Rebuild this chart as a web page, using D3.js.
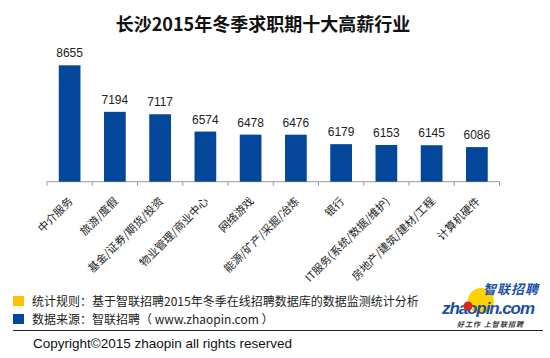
<!DOCTYPE html>
<html><head><meta charset="utf-8">
<script src="https://cdn.jsdelivr.net/npm/d3@7/dist/d3.min.js"></script>
<style>body{margin:0;background:#fff}svg{display:block}</style>
</head><body>
<svg id="c" width="550" height="358"></svg>
<script>
const categories = ["中介服务","旅游/度假","基金/证券/期货/投资","物业管理/商业中心","网络游戏","能源/矿产/采掘/冶炼","银行","IT服务(系统/数据/维护)","房地产/建筑/建材/工程","计算机硬件"];
const values = [8655,7194,7117,6574,6478,6476,6179,6153,6145,6086];
const titleText = "长沙2015年冬季求职期十大高薪行业";
const notes = ["统计规则：基于智联招聘2015年冬季在线招聘数据库的数据监测统计分析","数据来源：智联招聘（ www.zhaopin.com ）"];
const copyright = "Copyright©2015 zhaopin all rights reserved";

const svg = d3.select("#c");
const font = "'Noto Sans CJK SC','Microsoft YaHei',sans-serif";
const blue = "#03469a";

svg.append("text").attr("x",263).attr("y",31).attr("text-anchor","middle")
  .attr("font-family",font).attr("font-size",18).attr("font-weight","bold").attr("fill","#111").text(titleText);

const x = d3.scaleBand().domain(categories).range([47,499.5]).paddingInner(0.52).paddingOuter(0.26);
const y = d3.scaleLinear().domain([5000,10000]).range([181.7,22.5]);

const gx = svg.append("g").attr("transform","translate(0,181.7)");
gx.append("line").attr("x1",47).attr("x2",499.5).attr("stroke","#999").attr("stroke-width",1);
const tickPos = d3.range(categories.length+1).map(i=>47+i*(452.5/categories.length));
gx.selectAll("line.t").data(tickPos).join("line").attr("class","t")
  .attr("x1",d=>d).attr("x2",d=>d).attr("y1",0).attr("y2",4).attr("stroke","#999");

svg.selectAll("rect.bar").data(values).join("rect").attr("class","bar")
  .attr("x",(d,i)=>x(categories[i])).attr("width",x.bandwidth())
  .attr("y",d=>y(d)).attr("height",d=>y(5000)-y(d)).attr("fill",blue);

svg.selectAll("text.v").data(values).join("text").attr("class","v")
  .attr("x",(d,i)=>x(categories[i])+x.bandwidth()/2).attr("y",d=>y(d)-8)
  .attr("text-anchor","middle").attr("font-family","'Liberation Sans',Arial,sans-serif")
  .attr("font-size",12).attr("fill","#222").text(d=>d);

svg.selectAll("text.c").data(categories).join("text").attr("class","c")
  .attr("transform",d=>`translate(${x(d)+x.bandwidth()/2+4},${202}) rotate(-45)`)
  .attr("text-anchor","end").attr("font-family",font).attr("font-size",11).attr("fill","#222").text(d=>d);

// legend notes
const colors = ["#ffc000", blue];
notes.forEach((t,i)=>{
  svg.append("rect").attr("x",13).attr("y",296+i*18).attr("width",11).attr("height",10).attr("fill",colors[i]);
  svg.append("text").attr("x",32).attr("y",305.5+i*18).attr("font-family",font).attr("font-size",12).attr("fill","#222").text(t);
});
svg.append("line").attr("x1",13).attr("x2",543).attr("y1",330.5).attr("y2",330.5).attr("stroke","#222").attr("stroke-width",1);
svg.append("text").attr("x",33).attr("y",348).attr("font-family","'Liberation Sans',Arial,sans-serif").attr("font-size",13.5).attr("fill","#111").text(copyright);

// logo
const lg = svg.append("g");
lg.append("circle").attr("cx",481).attr("cy",301).attr("r",13).attr("fill","#ffd200");
lg.append("text").attr("x",538).attr("y",294).attr("text-anchor","end").attr("font-family",font).attr("font-size",13).attr("font-weight","bold").attr("font-style","italic").attr("fill","#1a4ea8").attr("textLength",55).text("智联招聘");
lg.append("text").attr("x",442).attr("y",313.5).attr("font-family","'Liberation Sans',Arial,sans-serif").attr("font-size",17).attr("font-weight","bold").attr("font-style","italic").attr("fill","#1a4ea8").attr("textLength",93).text("zhaopin.com");
lg.append("circle").attr("cx",468).attr("cy",306).attr("r",4.5).attr("fill","#d7261e");
lg.append("text").attr("x",457).attr("y",326.5).attr("font-family",font).attr("font-size",7).attr("font-style","italic").attr("font-weight","bold").attr("fill","#333").attr("textLength",66).text("好工作  上智联招聘");
</script>
</body></html>
